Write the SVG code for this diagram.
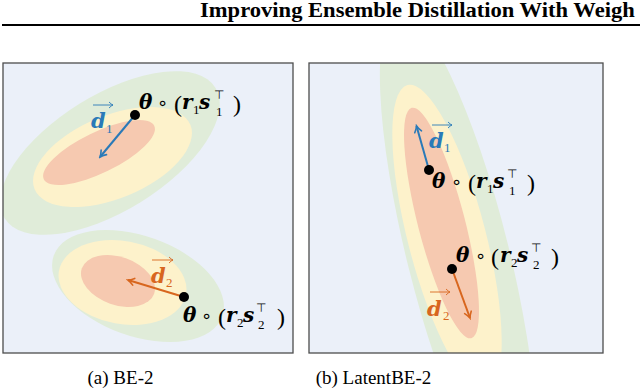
<svg xmlns="http://www.w3.org/2000/svg" width="640" height="392" viewBox="0 0 640 392">
<style>
.bg{fill:#ebf0f9}
.frame{fill:none;stroke:#4d4d4d;stroke-width:1.3}
.g{fill:#e0ecd9}
.y{fill:#fdf2cb}
.r{fill:#f6c9b0}
.dot{fill:#000}
.bi{font-family:"DejaVu Serif",serif;font-weight:bold;font-style:italic;font-size:20px}
.bd{font-family:"DejaVu Serif",serif;font-weight:bold;font-style:italic;font-size:21px}
.rm{font-family:"Liberation Serif",serif;font-size:24px}
.sb{font-family:"Liberation Serif",serif;font-size:13px}
.op{font-family:"DejaVu Sans",sans-serif;font-size:18px}
.tp{font-family:"DejaVu Sans",sans-serif;font-size:12px}
.cap{font-family:"Liberation Serif",serif;font-size:19px;text-anchor:middle}
.blue{fill:#2a7ab8}
.orange{fill:#d8661e}
.vb{stroke:#2a7ab8;stroke-width:2;fill:none}
.vo{stroke:#d8661e;stroke-width:2;fill:none}
.ob{stroke:#2a7ab8;stroke-width:0.9;fill:none}
.oo{stroke:#d8661e;stroke-width:0.9;fill:none}
</style>
<defs>
<marker id="hb" viewBox="-8 -5 10 10" markerWidth="10" markerHeight="10" refX="0" refY="0" orient="auto" markerUnits="userSpaceOnUse">
<path d="M-6,-3.5 Q-2.5,-0.8 0,0 Q-2.5,0.8 -6,3.5" fill="none" stroke="#2a7ab8" stroke-width="1.6" stroke-linecap="round"/>
</marker>
<marker id="ho" viewBox="-8 -5 10 10" markerWidth="10" markerHeight="10" refX="0" refY="0" orient="auto" markerUnits="userSpaceOnUse">
<path d="M-6,-3.5 Q-2.5,-0.8 0,0 Q-2.5,0.8 -6,3.5" fill="none" stroke="#d8661e" stroke-width="1.6" stroke-linecap="round"/>
</marker>
<clipPath id="ca"><rect x="3" y="63" width="290" height="290"/></clipPath>
<clipPath id="cb"><rect x="309" y="63" width="294" height="290"/></clipPath>
</defs>

<g id="header">
<text transform="translate(200,17) scale(1.075,1)" style="font-family:'Liberation Serif',serif;font-weight:bold;font-size:21px">Improving Ensemble Distillation With Weigh</text>
<line x1="2" y1="25" x2="640" y2="25" stroke="#000" stroke-width="2"/>
</g>

<g id="panel-a">
<rect class="bg" x="3" y="63" width="290" height="290"/>
<g clip-path="url(#ca)">
<ellipse class="g" cx="110" cy="153" rx="124" ry="58" transform="rotate(-31.8 110 153)"/>
<ellipse class="y" cx="112.5" cy="157" rx="84.3" ry="41.4" transform="rotate(-22.5 112.5 157)"/>
<ellipse class="r" cx="99" cy="152.5" rx="61.4" ry="20.4" transform="rotate(-25.9 99 152.5)"/>
<ellipse class="g" cx="138" cy="286" rx="89.6" ry="50" transform="rotate(19.9 138 286)"/>
<ellipse class="y" cx="122.5" cy="282.5" rx="64.6" ry="41.5" transform="rotate(10.5 122.5 282.5)"/>
<ellipse class="r" cx="118" cy="281" rx="38.3" ry="24" transform="rotate(19.3 118 281)"/>
</g>
<rect class="frame" x="3" y="63" width="290" height="290"/>
</g>

<g id="panel-b">
<rect class="bg" x="309" y="63" width="294" height="290"/>
<g clip-path="url(#cb)">
<ellipse class="g" cx="458" cy="255" rx="51" ry="250" transform="rotate(-14 458 255)"/>
<ellipse class="y" cx="447" cy="238" rx="39" ry="158" transform="rotate(-14.5 447 238)"/>
<ellipse class="r" cx="441.5" cy="223" rx="23.5" ry="119" transform="rotate(-14.5 441.5 223)"/>
</g>
<rect class="frame" x="309" y="63" width="294" height="290"/>
</g>

<g id="connectors">
<line class="vb" x1="135" y1="115" x2="100" y2="157" marker-end="url(#hb)"/>
<line class="vo" x1="184" y1="297" x2="128" y2="280" marker-end="url(#ho)"/>
<line class="vb" x1="429" y1="170" x2="416.5" y2="126" marker-end="url(#hb)"/>
<line class="vo" x1="452" y1="269" x2="470" y2="318" marker-end="url(#ho)"/>
</g>

<g id="point-a1">
<circle class="dot" cx="135" cy="115" r="5"/>
<text><tspan class="bi" x="139" y="109">θ</tspan><tspan class="op" x="157" y="109">∘</tspan><tspan class="rm" x="174" y="111.5">(</tspan><tspan class="bi" x="182" y="109">r</tspan><tspan class="sb" x="193" y="114">1</tspan><tspan class="bi" x="199" y="109">s</tspan><tspan class="tp" x="214" y="99">⊤</tspan><tspan class="sb" x="216" y="116">1</tspan><tspan class="rm" x="233" y="111.5">)</tspan></text>
</g>
<g id="vec-a1">
<text class="blue"><tspan class="bd" x="91" y="128">d</tspan><tspan class="sb" x="106" y="133">1</tspan></text>
<path class="ob" d="M93,105 H113 M109,102 Q111.5,104.5 113,105 Q111.5,105.5 109,108"/>
</g>

<g id="point-a2">
<circle class="dot" cx="184" cy="297" r="5"/>
<text><tspan class="bi" x="183" y="322">θ</tspan><tspan class="op" x="201" y="322">∘</tspan><tspan class="rm" x="218" y="324.5">(</tspan><tspan class="bi" x="226" y="322">r</tspan><tspan class="sb" x="237" y="327">2</tspan><tspan class="bi" x="243" y="322">s</tspan><tspan class="tp" x="256" y="312">⊤</tspan><tspan class="sb" x="258" y="329">2</tspan><tspan class="rm" x="277" y="324.5">)</tspan></text>
</g>
<g id="vec-a2">
<text class="orange"><tspan class="bd" x="151" y="283">d</tspan><tspan class="sb" x="166" y="287">2</tspan></text>
<path class="oo" d="M152,260 H173 M169,257 Q171.5,259.5 173,260 Q171.5,260.5 169,263"/>
</g>

<g id="point-b1">
<circle class="dot" cx="429" cy="170" r="5"/>
<text><tspan class="bi" x="432" y="188">θ</tspan><tspan class="op" x="451" y="188">∘</tspan><tspan class="rm" x="468" y="190.5">(</tspan><tspan class="bi" x="476" y="188">r</tspan><tspan class="sb" x="487" y="193">1</tspan><tspan class="bi" x="493" y="188">s</tspan><tspan class="tp" x="507" y="178">⊤</tspan><tspan class="sb" x="509" y="195">1</tspan><tspan class="rm" x="527" y="190.5">)</tspan></text>
</g>
<g id="vec-b1">
<text class="blue"><tspan class="bd" x="429" y="148">d</tspan><tspan class="sb" x="444" y="152">1</tspan></text>
<path class="ob" d="M432,125 H452 M448,122 Q450.5,124.5 452,125 Q450.5,125.5 448,128"/>
</g>

<g id="point-b2">
<circle class="dot" cx="452" cy="269" r="5"/>
<text><tspan class="bi" x="456" y="262">θ</tspan><tspan class="op" x="475" y="262">∘</tspan><tspan class="rm" x="491" y="264.5">(</tspan><tspan class="bi" x="500" y="262">r</tspan><tspan class="sb" x="511" y="267">2</tspan><tspan class="bi" x="517" y="262">s</tspan><tspan class="tp" x="531" y="252">⊤</tspan><tspan class="sb" x="533" y="269">2</tspan><tspan class="rm" x="551" y="264.5">)</tspan></text>
</g>
<g id="vec-b2">
<text class="orange"><tspan class="bd" x="427" y="316">d</tspan><tspan class="sb" x="443" y="320">2</tspan></text>
<path class="oo" d="M430,292 H450 M446,289 Q448.5,291.5 450,292 Q448.5,292.5 446,295"/>
</g>

<g id="captions">
<text class="cap" x="120.5" y="384">(a) BE-2</text>
<text class="cap" x="373.5" y="384">(b) LatentBE-2</text>
</g>
</svg>
